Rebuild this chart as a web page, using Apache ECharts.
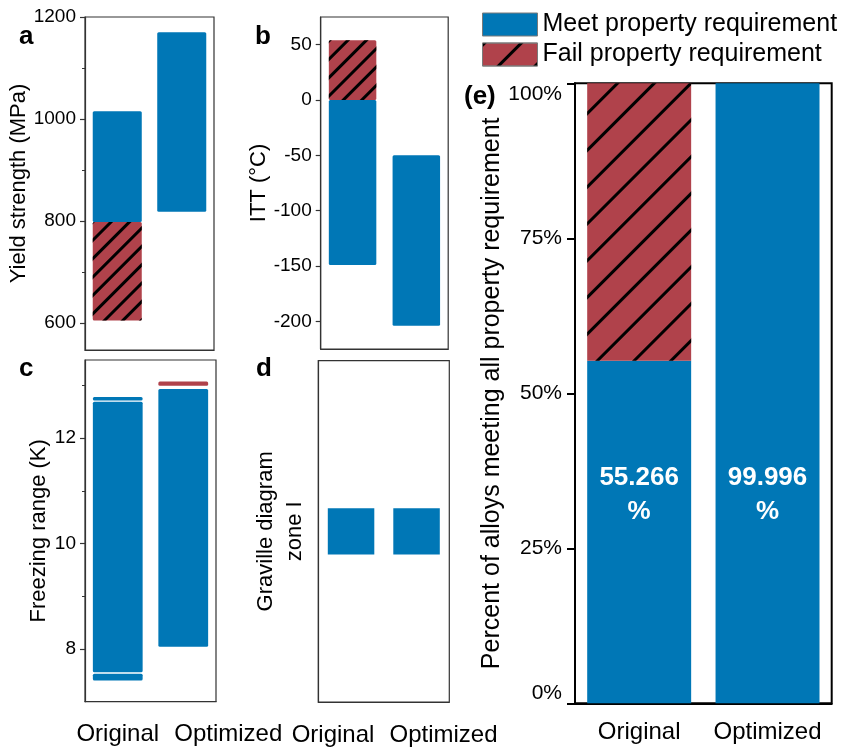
<!DOCTYPE html>
<html>
<head>
<meta charset="utf-8">
<script src="https://cdn.jsdelivr.net/npm/echarts@6/dist/echarts.min.js"></script>
<style>
  html, body { margin: 0; padding: 0; background: #fff; }
  #chart { width: 842px; height: 747px; }
</style>
</head>
<body>
<div id="chart"></div>
<script>
// ---- data ----
const categories = ['Original', 'Optimized'];

// ranges are [categoryIndex, low, high]
// (a) yield strength, MPa
const yieldMeet = [[0, 798, 1015], [1, 818, 1170]];
const yieldFail = [[0, 605, 798]];
const yieldTicks = [600, 800, 1000, 1200];
const yieldMinorTicks = [700, 900, 1100];

// (b) ITT, °C
const ittMeet = [[0, -149, 0], [1, -204, -50]];
const ittFail = [[0, 0, 54]];
const ittTicks = [-200, -150, -100, -50, 0, 50];

// (c) freezing range, K
const freezeMeet = [[0, 7.40, 7.53], [0, 7.56, 12.69], [0, 12.71, 12.78], [1, 8.04, 12.93]];
const freezeFail = [[1, 12.99, 13.07]];
const freezeTicks = [8, 10, 12];
const freezeMinorTicks = [9, 11, 13];

// (d) Graville diagram zone, [categoryIndex, zoneIndex]
const gravilleZones = ['zone I'];
const gravilleMeet = [[0, 0], [1, 0]];

// (e) share of alloys meeting every requirement, %
const meetPct = [55.266, 99.996];
const failPct = meetPct.map(v => 100 - v);

// ---- styling ----
const BLUE = '#0077b6';
const RED = '#b0424b';
const FONT = '"Liberation Sans", Arial, sans-serif';
const FRAME = '#333';
// wide hatch for the large panel, finer hatch for the small ones
const HATCH_WIDE = {
  symbol: 'rect', symbolSize: 1, color: '#000',
  dashArrayX: [1, 0], dashArrayY: [3, 23], rotation: -Math.PI / 4
};
const HATCH_FINE = {
  symbol: 'rect', symbolSize: 1, color: '#000',
  dashArrayX: [1, 0], dashArrayY: [2.6, 9.6], rotation: -Math.PI / 4
};
const NAME_MEET = 'Meet property requirement';
const NAME_FAIL = 'Fail property requirement';

const grids = [
  { left: 85,    top: 17,    width: 129,   height: 333 },   // a
  { left: 320.7, top: 17,    width: 127.5, height: 332 },   // b
  { left: 85,    top: 360,   width: 131,   height: 341.7 }, // c
  { left: 318.3, top: 360.7, width: 131,   height: 342.6 }, // d
  { left: 575,   top: 83.3,  width: 256.7, height: 620 }    // e
].map((g, i) => Object.assign({
  show: true, borderColor: i === 4 ? '#000' : FRAME, borderWidth: i === 4 ? 2 : 1.2,
  backgroundColor: 'transparent', containLabel: false
}, g));

// shifts: horizontal offset (px) of each category label from its tick
function catAxis(gridIndex, showLabel, shifts) {
  const big = gridIndex === 4;
  const rich = {};
  (shifts || [0, 0]).forEach((s, i) => {
    rich['p' + i] = {
      fontFamily: FONT, fontSize: 24, color: '#000',
      padding: s >= 0 ? [0, 0, 0, 2 * s] : [0, -2 * s, 0, 0]
    };
  });
  return {
    type: 'category', gridIndex, data: categories, boundaryGap: true,
    axisLine: { onZero: false, lineStyle: { color: big ? '#000' : FRAME, width: big ? 2 : 1.2 } },
    axisTick: { alignWithLabel: true, length: big ? 9 : 4, lineStyle: { color: big ? '#000' : FRAME, width: big ? 2 : 1.2 } },
    axisLabel: {
      show: showLabel, interval: 0, hideOverlap: false,
      fontFamily: FONT, fontSize: 24, color: '#000', margin: big ? 17 : 21,
      formatter: (v, i) => '{p' + i + '|' + v + '}',
      rich
    },
    splitLine: { show: false }
  };
}

function valAxis(gridIndex, min, max, ticks, name, nameGap) {
  return {
    type: 'value', gridIndex, min, max,
    name, nameLocation: 'middle', nameGap,
    nameTextStyle: { fontFamily: FONT, fontSize: 22, color: '#000' },
    axisLine: { show: true, onZero: false, lineStyle: { color: FRAME, width: 1.2 } },
    axisTick: { show: true, length: 5, customValues: ticks, lineStyle: { color: FRAME, width: 1.2 } },
    axisLabel: {
      customValues: ticks, formatter: v => String(v),
      fontFamily: FONT, fontSize: 19, color: '#000', margin: 9
    },
    splitLine: { show: false }
  };
}

function minorAxis(gridIndex, min, max, ticks) {
  return {
    type: 'value', gridIndex, min, max, position: 'left',
    axisLine: { show: false },
    axisTick: { show: true, length: 3, customValues: ticks, lineStyle: { color: FRAME, width: 1 } },
    axisLabel: { show: false },
    splitLine: { show: false }
  };
}

// floating bar drawn from [low, high]
function rangeSeries(name, color, data, xi, yi, widthRatio, decal) {
  return {
    type: 'custom', name, xAxisIndex: xi, yAxisIndex: yi, data,
    encode: { x: 0, y: [1, 2] },
    itemStyle: { color },
    renderItem: (params, api) => {
      const c = api.value(0), lo = api.value(1), hi = api.value(2);
      const top = api.coord([c, hi]);
      const bottom = api.coord([c, lo]);
      const w = api.size([1, 0])[0] * widthRatio;
      const style = api.style();
      if (decal) style.decal = decal;
      return {
        type: 'rect',
        shape: { x: top[0] - w / 2, y: top[1], width: w, height: bottom[1] - top[1], r: 1.5 },
        style
      };
    }
  };
}

const LABEL_AT = 33.7; // height (in %) where the value labels of panel e sit

const option = {
  animation: false,
  backgroundColor: '#fff',
  textStyle: { fontFamily: FONT },
  title: [
    { text: 'a', left: 19, top: 24 },
    { text: 'b', left: 255, top: 24 },
    { text: 'c', left: 19, top: 356 },
    { text: 'd', left: 256, top: 356 },
    { text: '(e)', left: 464, top: 84 }
  ].map(t => Object.assign(t, { padding: 0, textStyle: { fontFamily: FONT, fontSize: 26, fontWeight: 'bold', color: '#000' } })),
  legend: {
    left: 482, top: 12, orient: 'vertical',
    data: [NAME_MEET, NAME_FAIL],
    icon: 'rect', itemWidth: 55, itemHeight: 23, itemGap: 5, padding: 0,
    itemStyle: { borderColor: '#7a7a7a', borderWidth: 1 },
    textStyle: { fontFamily: FONT, fontSize: 25, color: '#000' },
    selectedMode: false
  },
  grid: grids,
  xAxis: [
    catAxis(0, false), catAxis(1, false),
    catAxis(2, true, [0, 45]), catAxis(3, true, [-18, 27]), catAxis(4, true)
  ],
  yAxis: [
    valAxis(0, 547, 1200, yieldTicks, 'Yield strength (MPa)', 43),
    valAxis(1, -225, 75, ittTicks, 'ITT (°C)', 48),
    valAxis(2, 7.0, 13.48, freezeTicks, 'Freezing range (K)', 35),
    {
      type: 'category', gridIndex: 3, data: gravilleZones,
      name: 'Graville diagram', nameLocation: 'middle', nameGap: 41,
      nameTextStyle: { fontFamily: FONT, fontSize: 22, color: '#000' },
      axisLine: { lineStyle: { color: FRAME, width: 1.2 } },
      axisTick: { alignWithLabel: true, length: 5, lineStyle: { color: FRAME, width: 1.2 } },
      axisLabel: { rotate: 90, fontFamily: FONT, fontSize: 22, color: '#000', margin: 12 }
    },
    {
      type: 'value', gridIndex: 4, min: 0, max: 100, interval: 25,
      name: 'Percent of alloys meeting all property requirement', nameLocation: 'middle', nameGap: 58,
      nameTextStyle: { fontFamily: FONT, fontSize: 25, color: '#000' },
      axisLine: { show: true, lineStyle: { color: '#000', width: 2 } },
      axisTick: { show: true, length: 8, lineStyle: { color: '#000', width: 2 } },
      axisLabel: {
        fontFamily: FONT, fontSize: 21, color: '#000', margin: 13,
        formatter: v => v + '%',
        verticalAlignMaxLabel: 'top', verticalAlignMinLabel: 'bottom'
      },
      splitLine: { show: false }
    },
    minorAxis(0, 547, 1200, yieldMinorTicks),
    minorAxis(2, 7.0, 13.48, freezeMinorTicks)
  ],
  series: [
    {
      type: 'bar', name: NAME_MEET, xAxisIndex: 4, yAxisIndex: 4, stack: 'e', barWidth: '81%',
      itemStyle: { color: BLUE },
      label: {
        show: true, color: '#fff', fontFamily: FONT, fontSize: 26, fontWeight: 'bold',
        lineHeight: 34, align: 'center', verticalAlign: 'middle',
        formatter: p => p.value.toFixed(3) + '\n%'
      },
      data: meetPct.map(v => ({
        value: v,
        label: { position: ['50%', ((v - LABEL_AT) / v * 100).toFixed(2) + '%'] }
      }))
    },
    {
      type: 'bar', name: NAME_FAIL, xAxisIndex: 4, yAxisIndex: 4, stack: 'e', barWidth: '81%',
      itemStyle: { color: RED, decal: HATCH_WIDE },
      data: failPct
    },
    rangeSeries(NAME_MEET, BLUE, yieldMeet, 0, 0, 0.76, null),
    rangeSeries(NAME_FAIL, RED, yieldFail, 0, 0, 0.76, HATCH_FINE),
    rangeSeries(NAME_MEET, BLUE, ittMeet, 1, 1, 0.745, null),
    rangeSeries(NAME_FAIL, RED, ittFail, 1, 1, 0.745, HATCH_FINE),
    rangeSeries(NAME_MEET, BLUE, freezeMeet, 2, 2, 0.76, null),
    rangeSeries(NAME_FAIL, RED, freezeFail, 2, 2, 0.76, null),
    {
      type: 'custom', name: NAME_MEET, xAxisIndex: 3, yAxisIndex: 3, data: gravilleMeet,
      encode: { x: 0, y: 1 },
      itemStyle: { color: BLUE },
      renderItem: (params, api) => {
        const p = api.coord([api.value(0), api.value(1)]);
        const band = api.size([1, 1]);
        const w = band[0] * 0.71, h = band[1] * 0.136;
        return { type: 'rect', shape: { x: p[0] - w / 2, y: p[1] - h / 2, width: w, height: h }, style: api.style() };
      }
    }
  ]
};

const chart = echarts.init(document.getElementById('chart'), null, { renderer: 'canvas' });
chart.setOption(option);
</script>
</body>
</html>
